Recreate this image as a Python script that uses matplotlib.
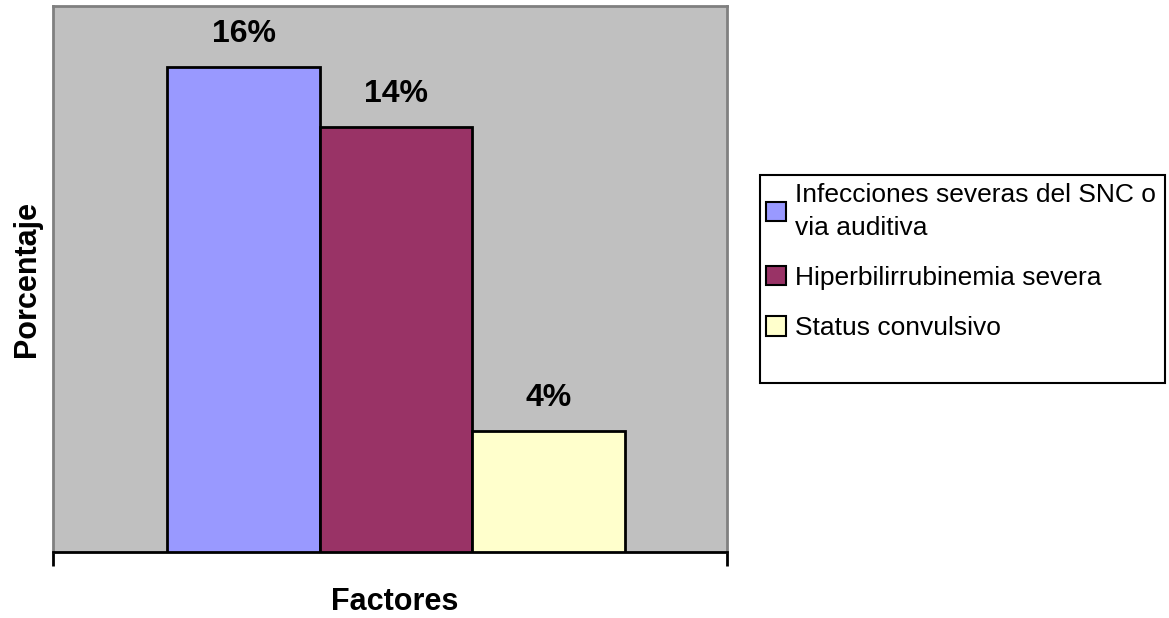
import matplotlib.pyplot as plt
from matplotlib.patches import Patch, Rectangle

plt.rcParams['font.family'] = ['Liberation Sans', 'DejaVu Sans']

factores = ['Infecciones severas del SNC o\nvia auditiva',
            'Hiperbilirrubinemia severa',
            'Status convulsivo']
porcentajes = [16, 14, 4]
etiquetas = ['16%', '14%', '4%']
colores = ['#9999FF', '#993366', '#FFFFCC']

W, H = 1169, 618
fig = plt.figure(figsize=(W / 100, H / 100), dpi=100)
ax = fig.add_axes([53 / W, 1 - 552 / H, 674 / W, 546 / H])
ax.set_facecolor('#C0C0C0')

x = [0, 1, 2]
bars = ax.bar(x, porcentajes, width=1.0, color=colores,
              edgecolor='black', linewidth=2, zorder=3)
ax.bar_label(bars, labels=etiquetas, padding=13, fontsize=23,
             fontweight='bold')

ax.set_xlim(-1.249, 3.17)
ax.set_ylim(0, 18)
ax.set_yticks([])
ax.set_xticks([-1.249, 3.17])
ax.set_xticklabels([])
ax.tick_params(axis='x', length=10, width=2, direction='out')

for s in ['top', 'left', 'right']:
    ax.spines[s].set_color('#808080')
    ax.spines[s].set_linewidth(2)
ax.spines['bottom'].set_color('black')
ax.spines['bottom'].set_linewidth(2)

ax.set_xlabel('Factores', fontsize=22, fontweight='bold')
ax.xaxis.set_label_coords(0.507, -0.064)
ax.set_ylabel('Porcentaje', fontsize=22, fontweight='bold')
ax.yaxis.set_label_coords(-0.016, 0.5)

# legend box drawn separately so its size can be set exactly
fig.patches.append(Rectangle((760 / W, 1 - 383 / H), 405 / W, 208 / H,
                             transform=fig.transFigure, facecolor='white',
                             edgecolor='black', linewidth=1.5, zorder=0))
handles = [Patch(facecolor=c, edgecolor='black', linewidth=1.5) for c in colores]
leg = fig.legend(handles, factores, loc='upper left',
                 bbox_to_anchor=(766 / W, 1 - 183 / H), frameon=False,
                 fontsize=19, handlelength=0.75, handleheight=0.75,
                 handletextpad=0.35, labelspacing=1.0, borderpad=0,
                 borderaxespad=0)
for t in leg.get_texts():
    t.set_linespacing(1.45)

fig.savefig('out.png', dpi=100)
